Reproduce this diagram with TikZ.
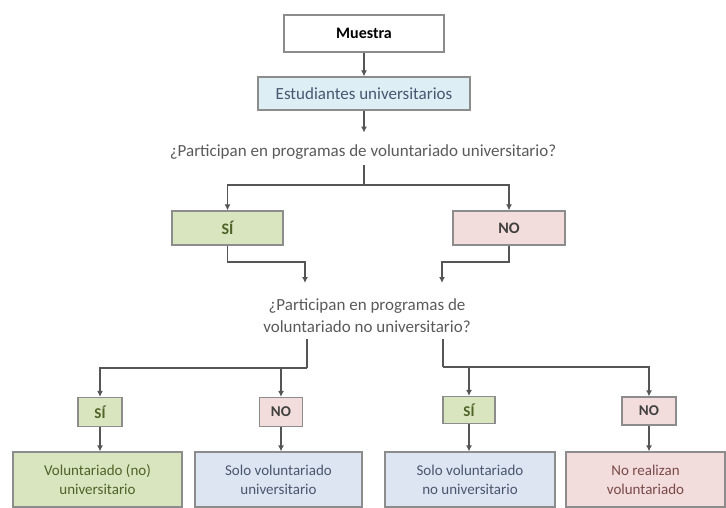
\documentclass[tikz,border=0pt]{standalone}
\usepackage{fontspec}
\setmainfont{Carlito}
\usetikzlibrary{arrows.meta,calc}
\definecolor{edge}{HTML}{8C8C8C}
\definecolor{wire}{HTML}{555555}
\definecolor{gfill}{HTML}{D9E5BE}
\definecolor{pfill}{HTML}{F3DCDC}
\definecolor{bfill}{HTML}{DCE5F1}
\definecolor{afill}{HTML}{DDEEF4}
\definecolor{gtext}{HTML}{4F6228}
\definecolor{ptext}{HTML}{7A4A4A}
\definecolor{btext}{HTML}{4A5670}
\definecolor{qtext}{HTML}{5A5A5A}
\tikzset{
  box/.style={draw=edge, line width=1.2pt, rectangle, inner sep=0pt, align=center, font=\fontsize{15}{19}\selectfont},
  gbox/.style={box, fill=gfill, text=gtext},
  pbox/.style={box, fill=pfill, text=ptext},
  bbox/.style={box, fill=bfill, text=btext},
  qtxt/.style={text=qtext, align=center, inner sep=0pt, font=\fontsize{17}{22}\selectfont},
  wline/.style={draw=wire, line width=1.2pt},
  arr/.style={wline, -{Latex[length=6pt,width=6pt]}}
}
\begin{document}
\begin{tikzpicture}[x=1pt,y=-1pt]
\useasboundingbox (0,0) rectangle (726,508);
% top
\node[box, fill=white, text=black, minimum width=160, minimum height=37, font=\fontsize{16}{18}\selectfont\bfseries] (muestra) at (364,33.5) {Muestra};
\node[box, fill=afill, text=btext, minimum width=212, minimum height=33, font=\fontsize{17}{19}\selectfont] (estud) at (364,93.5) {Estudiantes universitarios};
\node[qtxt] (q1) at (363,152) {¿Participan en programas de voluntariado universitario?};
\coordinate (j1) at (364,185);
\node[gbox, minimum width=111, minimum height=34, font=\fontsize{16}{18}\selectfont\bfseries] (si1) at (227.5,228) {SÍ};
\node[pbox, minimum width=112, minimum height=34, text=black!75, font=\fontsize{16}{18}\selectfont\bfseries] (no1) at (509,228) {NO};
\node[qtxt] (q2) at (367,316) {¿Participan en programas de\\voluntariado no universitario?};
\coordinate (a1) at (305,283);
\coordinate (a2) at (442,283);
\coordinate (l0) at (307,339);
\coordinate (l1) at (307,368);
\coordinate (r0) at (443,339);
\coordinate (r1) at (443,367);
% small answers
\node[gbox, minimum width=44, minimum height=29, font=\fontsize{15}{17}\selectfont\bfseries] (si2) at (100,412) {SÍ};
\node[pbox, minimum width=43, minimum height=29, text=black!75, font=\fontsize{15}{17}\selectfont\bfseries] (no2) at (281,412) {NO};
\node[gbox, minimum width=52, minimum height=27, font=\fontsize{15}{17}\selectfont\bfseries] (si3) at (469,410) {SÍ};
\node[pbox, minimum width=54, minimum height=28, text=black!75, font=\fontsize{15}{17}\selectfont\bfseries] (no3) at (649,411) {NO};
% results
\node[gbox, minimum width=169, minimum height=55] (b1) at (97.5,479.5) {Voluntariado (no)\\universitario};
\node[bbox, minimum width=167, minimum height=55] (b2) at (278.5,479.5) {Solo voluntariado\\universitario};
\node[bbox, minimum width=170, minimum height=55] (b3) at (470,479.5) {Solo voluntariado\\no universitario};
\node[pbox, minimum width=159, minimum height=55] (b4) at (645.5,479.5) {No realizan\\voluntariado};
% connectors
\draw[arr] (muestra) -- (estud);
\draw[arr] (estud.south) -- ($(estud.south)+(0,22)$);
\draw[wline] ($(q1.south)+(1,5)$) -- (j1);
\draw[arr] (j1) -| (si1.north);
\draw[arr] (j1) -| (no1.north);
\draw[arr] (si1.south) |- ($(a1)+(0,-21)$) -- (a1);
\draw[arr] (no1.south) |- ($(a2)+(0,-21)$) -- (a2);
\draw[wline] (l0) -- (l1);
\draw[arr] (l1) -| (si2.north);
\draw[arr] (l1) -| (no2.north);
\draw[wline] (r0) -- (r1);
\draw[arr] (r1) -| (si3.north);
\draw[arr] (r1) -| (no3.north);
\draw[arr] (si2) -- (si2 |- b1.north);
\draw[arr] (no2) -- (no2 |- b2.north);
\draw[arr] (si3) -- (si3 |- b3.north);
\draw[arr] (no3) -- (no3 |- b4.north);
\end{tikzpicture}
\end{document}
